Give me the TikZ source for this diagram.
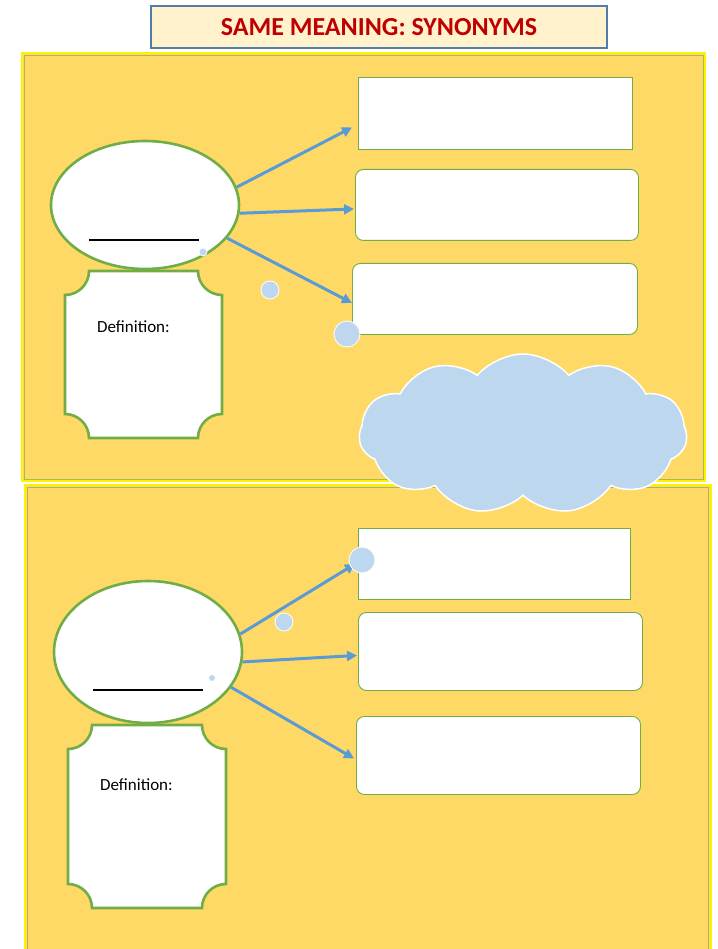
\documentclass[tikz,border=0pt]{standalone}
\usepackage{fontspec}
\setmainfont{Carlito}
\usetikzlibrary{arrows.meta,calc,shapes.geometric,shapes.symbols}
\definecolor{panelgold}{HTML}{FFD966}
\definecolor{rimgreen}{RGB}{170,185,80}
\definecolor{leafgreen}{HTML}{70AD47}
\definecolor{arrowblue}{HTML}{5B9BD5}
\definecolor{bubbleblue}{HTML}{BDD7EE}
\definecolor{titlecream}{HTML}{FFF2CC}
\definecolor{titleedge}{RGB}{80,125,170}
\definecolor{titlered}{HTML}{C00000}
\tikzset{
  panel/.style={fill=panelgold,draw=yellow,line width=2pt},
  panel rim/.style={draw=rimgreen,line width=0.8pt},
  title box/.style={
    rectangle,
    draw=titleedge,
    fill=titlecream,
    line width=1.2pt,
    minimum width=456pt,
    minimum height=42pt,
    inner sep=0pt,
    font=\bfseries\fontsize{26}{30}\selectfont,
    text=titlered
  },
  word node/.style={
    ellipse,
    draw=leafgreen,
    fill=white,
    line width=2.6pt,
    minimum width=188pt,
    minimum height=128pt,
    inner sep=0pt
  },
  syn box/.style={
    rectangle,
    draw=leafgreen,
    fill=white,
    line width=0.9pt,
    inner sep=0pt,
    anchor=north west
  },
  soft/.style={rounded corners=8pt},
  def frame/.style={draw=leafgreen,fill=white,line width=2.6pt},
  def label/.style={font=\fontsize{17}{20}\selectfont,anchor=west,inner sep=0pt},
  blank line/.style={line width=2.6pt,draw=black},
  bubble/.style={circle,fill=bubbleblue,draw=white,line width=0.8pt,inner sep=0pt},
  link/.style={-{Triangle[length=10pt,width=10pt]},line width=3pt,draw=arrowblue}
}
\newcommand{\definitionframe}[4]{%
  \draw[def frame]
    (#1+24,#2) -- (#3-24,#2) arc[start angle=180,end angle=90,radius=24]
    -- (#3,#4-24) arc[start angle=270,end angle=180,radius=24]
    -- (#1+24,#4) arc[start angle=0,end angle=-90,radius=24]
    -- (#1,#2+24) arc[start angle=90,end angle=0,radius=24]
    -- cycle;%
}

\begin{document}
\begin{tikzpicture}[x=1pt,y=-1pt]
  \useasboundingbox (0,0) rectangle (717,949);

  % panels
  \draw[panel] (22,53) rectangle (705,481);
  \draw[panel rim] (24,55) rectangle (703,479);
  \draw[panel] (25,485) rectangle (711,960);
  \draw[panel rim] (27,487) rectangle (708,960);

  % title
  \node[title box] (title) at (379,27) {SAME MEANING: SYNONYMS};

  % upper set
  \node[word node] (word1) at (145,205) {};
  \draw[blank line] (89,240) -- (199,240);
  \node[bubble,minimum size=8pt] (dot1) at (203,252) {};
  \definitionframe{65}{271}{222}{438}
  \node[def label] (def1) at (97,327) {Definition:};

  \node[syn box,minimum width=274pt,minimum height=72pt] (syn1) at (358,77) {};
  \node[syn box,soft,minimum width=283pt,minimum height=71pt] (syn2) at (355,169) {};
  \node[syn box,soft,minimum width=285pt,minimum height=71pt] (syn3) at (352,263) {};

  \draw[link] (word1.11) -- ($(syn1.west)+(-6,14)$);
  \draw[link] (word1.-5) -- ($(syn2.west)+(-1,4)$);
  \draw[link] (word1.-22) -- ($(syn3.west)+(0,4)$);

  \node[bubble,minimum size=18pt] (dot2) at (270,290) {};
  \node[bubble,minimum size=26pt] (dot3) at (347,334) {};

  % lower set
  \node[word node,minimum height=142pt] (word2) at (148,652) {};
  \draw[blank line,line width=1.6pt] (93,690) -- (203,690);
  \node[bubble,minimum size=7pt] (dot4) at (212,678) {};
  \definitionframe{68}{725}{226}{908}
  \node[def label] (def2) at (100,785) {Definition:};

  \node[syn box,minimum width=272pt,minimum height=71pt] (syn4) at (358,528) {};
  \node[syn box,soft,minimum width=284pt,minimum height=78pt] (syn5) at (358,612) {};
  \node[syn box,soft,minimum width=284pt,minimum height=78pt] (syn6) at (356,716) {};

  \draw[link] (word2.11) -- ($(syn4.west)+(-3,0)$);
  \draw[link] (word2.-6) -- ($(syn5.west)+(-1,4)$);
  \draw[link] (word2.-23) -- ($(syn6.west)+(-2,3)$);

  \node[bubble,minimum size=18pt] (dot5) at (284,622) {};
  \node[bubble,minimum size=26pt] (dot6) at (362,560) {};

  % thought cloud
  \node[cloud,cloud puffs=11,cloud puff arc=100,aspect=2.3,fill=bubbleblue,draw=white,
    line width=1.5pt,minimum width=328pt,minimum height=160pt,inner sep=0pt] (cloud) at (523,434) {};
\end{tikzpicture}
\end{document}
